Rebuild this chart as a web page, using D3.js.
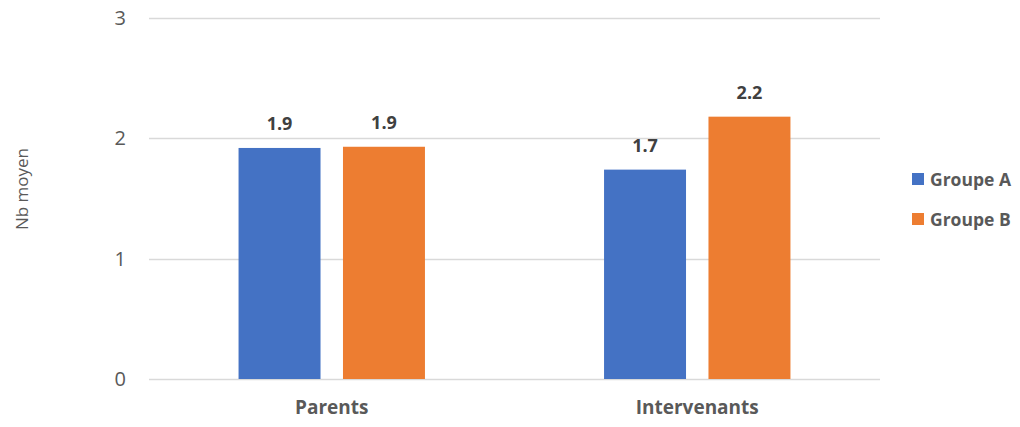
<!DOCTYPE html>
<html>
<head>
<meta charset="utf-8">
<script src="https://cdn.jsdelivr.net/npm/d3@7"></script>
<style>
  body { margin: 0; background: #fff; }
  svg { display: block; font-family: "Open Sans", sans-serif; }
</style>
</head>
<body>
<div id="chart"></div>
<script>
const categories = ['Parents', 'Intervenants'];
const seriesNames = ['Groupe A', 'Groupe B'];
const groupeA = [1.92, 1.74];
const groupeB = [1.93, 2.18];
const yTicks = [0, 1, 2, 3];
const colors = ['#4472C4', '#ED7D31'];

const width = 1020, height = 427;
const margin = { top: 18, right: 140, bottom: 48, left: 149 };
const innerW = width - margin.left - margin.right;
const innerH = height - margin.top - margin.bottom;

const svg = d3.select('#chart').append('svg')
  .attr('width', width)
  .attr('height', height);

const viz = svg.append('g')
  .attr('transform', `translate(${margin.left},${margin.top})`);

const y = d3.scaleLinear().domain([0, 3]).range([innerH, 0]);

const x0 = d3.scaleBand()
  .domain(categories)
  .range([0, innerW])
  .paddingInner(0.49)
  .paddingOuter(0.245);

const x1 = d3.scaleBand()
  .domain(seriesNames)
  .range([0, x0.bandwidth()])
  .paddingInner(0.215);

// gridlines
viz.append('g')
  .selectAll('line')
  .data(yTicks)
  .join('line')
  .attr('x1', 0)
  .attr('x2', innerW)
  .attr('y1', d => Math.round(y(d)) + 0.5)
  .attr('y2', d => Math.round(y(d)) + 0.5)
  .attr('stroke', '#D9D9D9')
  .attr('stroke-width', 1.3);

// y axis labels
const yAxis = viz.append('g')
  .call(d3.axisLeft(y).tickValues(yTicks).tickSize(0).tickPadding(23).tickFormat(d3.format('d')));
yAxis.select('.domain').remove();
yAxis.selectAll('text')
  .attr('font-family', '"Open Sans", sans-serif')
  .attr('font-size', 20)
  .attr('fill', '#595959');

// x axis labels
const xAxis = viz.append('g')
  .attr('transform', `translate(0,${innerH})`)
  .call(d3.axisBottom(x0).tickSize(0).tickPadding(22));
xAxis.select('.domain').remove();
xAxis.selectAll('text')
  .attr('font-family', '"Open Sans", sans-serif')
  .attr('font-size', 19)
  .attr('font-weight', 'bold')
  .attr('fill', '#595959');

// bars
const rows = categories.map((c, i) => ({
  cat: c,
  vals: [groupeA[i], groupeB[i]].map((v, j) => ({ key: seriesNames[j], v, color: colors[j] }))
}));

const groups = viz.append('g')
  .selectAll('g')
  .data(rows)
  .join('g')
  .attr('transform', d => `translate(${x0(d.cat)},0)`);

groups.selectAll('rect')
  .data(d => d.vals)
  .join('rect')
  .attr('x', d => x1(d.key))
  .attr('width', x1.bandwidth())
  .attr('y', d => y(d.v))
  .attr('height', d => innerH - y(d.v))
  .attr('fill', d => d.color);

groups.selectAll('text')
  .data(d => d.vals)
  .join('text')
  .attr('x', d => x1(d.key) + x1.bandwidth() / 2)
  .attr('y', d => y(d.v) - 18)
  .attr('text-anchor', 'middle')
  .attr('font-size', 18)
  .attr('font-weight', 'bold')
  .attr('fill', '#404040')
  .text(d => d3.format('.1f')(d.v));

// y axis title
svg.append('text')
  .attr('transform', 'translate(28,189) rotate(-90)')
  .attr('text-anchor', 'middle')
  .attr('font-size', 17)
  .attr('fill', '#595959')
  .text('Nb moyen');

// legend
const legend = svg.append('g')
  .attr('transform', 'translate(912,173)');

const items = legend.selectAll('g')
  .data(seriesNames)
  .join('g')
  .attr('transform', (d, i) => `translate(0,${i * 40})`);

items.append('rect')
  .attr('width', 12)
  .attr('height', 12)
  .attr('fill', (d, i) => colors[i]);

items.append('text')
  .attr('x', 18)
  .attr('y', 12.5)
  .attr('font-size', 17.5)
  .attr('font-weight', 'bold')
  .attr('fill', '#595959')
  .text(d => d);
</script>
</body>
</html>
